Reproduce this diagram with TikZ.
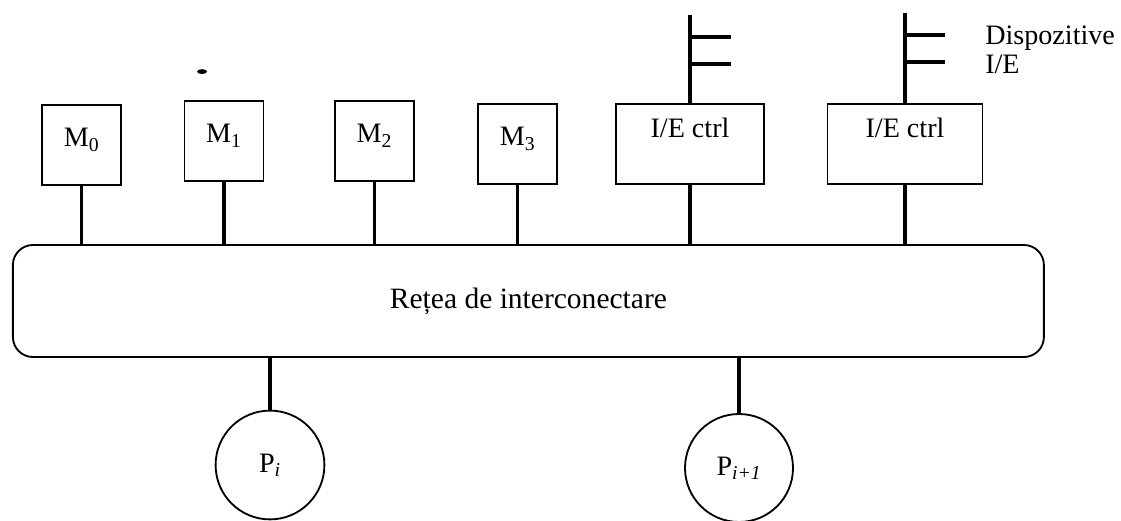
\documentclass[tikz,border=0pt]{standalone}
\usepackage{fontspec}
\setmainfont{Liberation Serif}
\usetikzlibrary{positioning,calc}

\begin{document}
\begin{tikzpicture}[every node/.style={font=\fontsize{20}{24}\selectfont},
  membox/.style={draw,line width=1.3pt,inner sep=0pt,minimum width=1.975cm,text height=1.05cm,text depth=0.95cm,anchor=base},
  iobox/.style={draw,line width=1.3pt,inner sep=0pt,minimum width=3.7cm,text height=0.85cm,text depth=1.15cm,anchor=base},
  proc/.style={draw,circle,line width=1.3pt,inner sep=0pt,minimum size=2.72cm},
  stub/.style={line width=2.2pt}]
\useasboundingbox (0,0) rectangle (28.025,-13.025);
% reteaua
\node[draw,rounded corners=0.5cm,line width=1.3pt,minimum width=25.775cm,minimum height=2.8cm,font=\fontsize{21}{25}\selectfont] (net) at (13.21,-7.525) {Rețea de interconectare};
% module de memorie
\node[membox] (M0) at (2.04,-3.675) {M\textsubscript{0}};
\node[membox] (M1) at (5.6,-3.575)  {M\textsubscript{1}};
\node[membox] (M2) at (9.36,-3.575) {M\textsubscript{2}};
\node[membox] (M3) at (12.94,-3.65) {M\textsubscript{3}};
% controlere I/E
\node[iobox] (IO1) at (17.25,-3.45) {I/E ctrl};
\node[iobox,minimum width=3.875cm] (IO2) at (22.625,-3.45) {I/E ctrl};
% procesoare
\node[proc] (P1) at (6.75,-11.625) {P\textsubscript{\textit{i}}};
\node[proc,minimum size=2.7cm] (P2) at (18.475,-11.7) {P\textsubscript{\textit{i+1}}};
% legaturi
\foreach \n in {M0,M1,M2,M3,IO1,IO2}
  \draw[stub] (\n.south) -- (\n.south |- net.north);
\foreach \n in {P1,P2}
  \draw[stub] (\n.north) -- (\n.north |- net.south);
% dispozitive
\coordinate (dev1) at (17.25,-0.375);
\coordinate (d1a) at (18.275,-0.925);
\coordinate (d1b) at (18.275,-1.6);
\coordinate (dev2) at (22.625,-0.325);
\coordinate (d2a) at (23.625,-0.875);
\coordinate (d2b) at (23.625,-1.55);
\draw[stub] (IO1.north) -- (dev1);
\draw[stub] (d1a -| IO1.north) -- (d1a);
\draw[stub] (d1b -| IO1.north) -- (d1b);
\draw[stub] (IO2.north) -- (dev2);
\draw[stub] (d2a -| IO2.north) -- (d2a);
\draw[stub] (d2b -| IO2.north) -- (d2b);
\node[anchor=base west,align=left,inner sep=0pt,font=\fontsize{20}{21.3}\selectfont] (devlabel) at (24.625,-1.85) {Dispozitive\\I/E};
\fill (5.05,-1.79) ellipse (0.125 and 0.06);
\end{tikzpicture}
\end{document}
